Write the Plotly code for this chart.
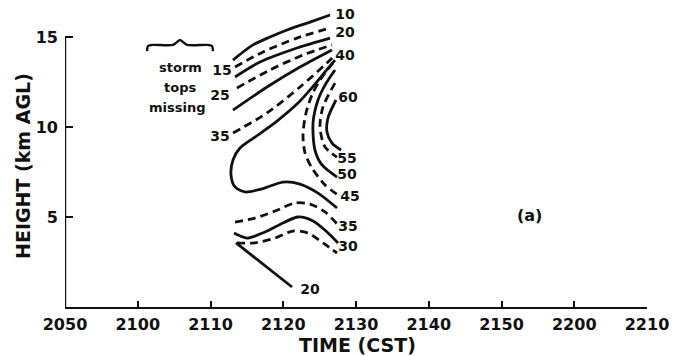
import plotly.graph_objects as go

# Time axis: minutes after 2050 CST; tick labels as printed
TICK_MIN = [0, 10, 20, 30, 40, 50, 60, 70, 80]
TICK_LAB = ["2050", "2100", "2110", "2120", "2130", "2140", "2150", "2200", "2210"]
Y_TICKS = [5, 10, 15]

# Reflectivity contours (dBZ): time (min after 2050), height (km AGL)
C10_T = [23.09, 25.84, 28.18, 30.52, 33.68, 36.43]
C10_H = [13.72, 14.56, 15.00, 15.39, 15.83, 16.22]
C15_T = [23.37, 27.22, 31.89, 36.43]
C15_H = [13.33, 14.17, 14.94, 15.50]
C20_T = [23.37, 26.80, 31.89, 36.43]
C20_H = [12.78, 13.61, 14.39, 14.94]
C25_T = [23.64, 28.18, 32.71, 36.70]
C25_H = [12.17, 13.17, 14.00, 14.56]
C30_T = [23.09, 27.77, 32.30, 36.70]
C30_H = [10.94, 12.22, 13.33, 14.28]
C35_T = [23.09, 27.77, 32.30, 36.01, 37.11]
C35_H = [9.67, 10.78, 12.22, 13.56, 14.00]
C40_T = [37.11, 35.74, 33.68, 32.03, 29.14, 26.12, 24.05, 23.09, 22.82, 23.37, 24.74, 27.08, 29.97, 32.30, 34.78, 37.39]
C40_H = [13.72, 13.06, 12.06, 11.33, 10.33, 9.44, 8.83, 8.17, 7.33, 6.67, 6.39, 6.56, 6.94, 6.83, 6.33, 5.50]
C45_T = [36.84, 35.05, 33.95, 33.13, 32.71, 32.99, 33.95, 35.74, 37.53]
C45_H = [13.56, 12.61, 11.78, 10.78, 9.56, 8.56, 7.72, 6.78, 6.22]
C50_T = [37.11, 35.74, 34.78, 34.09, 34.36, 35.33, 37.39]
C50_H = [13.17, 12.33, 11.50, 10.22, 8.72, 7.89, 7.22]
C55_T = [37.11, 35.46, 35.05, 35.74, 37.39]
C55_H = [12.44, 11.11, 10.00, 8.89, 8.33]
C60_T = [37.25, 36.15, 36.01, 36.70, 37.94]
C60_H = [11.50, 10.50, 9.72, 9.11, 8.72]
# lower group
L35_T = [23.37, 26.12, 28.87, 31.62, 33.68, 35.74, 37.53]
L35_H = [4.72, 4.94, 5.33, 5.78, 5.72, 5.28, 4.56]
L30_T = [23.23, 25.02, 27.49, 29.97, 32.03, 34.09, 36.01, 37.53]
L30_H = [4.11, 3.83, 4.17, 4.67, 5.00, 4.78, 4.17, 3.56]
L25_T = [23.64, 26.12, 28.87, 31.34, 33.40, 35.46, 37.39]
L25_H = [3.56, 3.56, 3.83, 4.22, 4.11, 3.56, 3.00]
L20_T = [23.51, 31.20]
L20_H = [3.56, 1.11]

# contour labels: text, time, height
LAB_TXT = ["10", "20", "40", "60", "55", "50", "45", "35", "30", "20", "15", "25", "35"]
LAB_T = [38.49, 38.49, 38.49, 38.90, 38.76, 38.76, 39.18, 38.90, 38.90, 33.68, 21.58, 21.31, 21.31]
LAB_H = [16.22, 15.22, 13.89, 11.61, 8.22, 7.30, 6.11, 4.44, 3.28, 0.94, 13.06, 11.67, 9.44]

# "storm tops missing" brace
BRACE_T = [11.27, 11.41, 12.10, 14.85, 15.81, 16.77, 19.52, 20.21, 20.34]
BRACE_H = [14.22, 14.50, 14.56, 14.56, 14.83, 14.56, 14.56, 14.50, 14.22]

INK = "#111111"
solid = dict(color=INK, width=2.8)
dashed = dict(color=INK, width=2.8, dash="8px,5px")

curves = [
    (C10_T, C10_H, solid), (C15_T, C15_H, dashed), (C20_T, C20_H, solid),
    (C25_T, C25_H, dashed), (C30_T, C30_H, solid), (C35_T, C35_H, dashed),
    (C40_T, C40_H, solid), (C45_T, C45_H, dashed), (C50_T, C50_H, solid),
    (C55_T, C55_H, dashed), (C60_T, C60_H, solid),
    (L35_T, L35_H, dashed), (L30_T, L30_H, solid), (L25_T, L25_H, dashed),
    (L20_T, L20_H, solid),
]

fig = go.Figure()
for t, h, ln in curves:
    fig.add_trace(go.Scatter(x=t, y=h, mode="lines", line=dict(shape="spline", smoothing=0.8, **ln),
                             hoverinfo="skip", showlegend=False))
fig.add_trace(go.Scatter(x=BRACE_T, y=BRACE_H, mode="lines",
                         line=dict(color=INK, width=2.4, shape="spline", smoothing=0.6),
                         hoverinfo="skip", showlegend=False))

bold = dict(family="DejaVu Sans", size=16, color=INK, weight="bold")
lab = dict(family="DejaVu Sans", size=14, color=INK, weight="bold")
fig.add_trace(go.Scatter(x=LAB_T, y=LAB_H, mode="text", text=LAB_TXT, textfont=lab,
                         hoverinfo="skip", showlegend=False, cliponaxis=False))

small = dict(family="DejaVu Sans", size=13, color=INK, weight="bold")
for txt, tx, hy in [("storm", 15.81, 13.28), ("tops", 15.81, 12.17), ("missing", 15.40, 11.06)]:
    fig.add_annotation(x=tx, y=hy, text=txt, showarrow=False, font=small)

fig.add_annotation(x=63.9, y=5.11, text="(a)", showarrow=False, font=bold)
title_font = dict(family="DejaVu Sans", size=19, color=INK, weight="bold")
fig.add_annotation(xref="paper", yref="paper", x=0.5034, y=-0.128, text="TIME (CST)",
                   xanchor="center", yanchor="middle", showarrow=False, font=title_font)
fig.add_annotation(xref="paper", yref="paper", x=-0.0722, y=0.4747, text="HEIGHT (km AGL)",
                   xanchor="center", yanchor="middle", showarrow=False, textangle=-90,
                   font=title_font)

# y axis line only up to 15 km
fig.add_shape(type="line", x0=0, x1=0, y0=0, y1=15, xref="x", yref="y",
              line=dict(color=INK, width=2.4))

fig.update_xaxes(range=[0, 80], tickvals=TICK_MIN, ticktext=TICK_LAB, showline=True,
                 linecolor=INK, linewidth=2.4, ticks="inside", ticklen=6, tickwidth=2,
                 tickcolor=INK, showgrid=False, zeroline=False, tickfont=bold,
                 ticklabelstandoff=2)
fig.update_yaxes(range=[0, 16.5], tickvals=Y_TICKS, ticktext=[str(v) for v in Y_TICKS],
                 showline=False, ticks="inside", ticklen=8, tickwidth=2, tickcolor=INK,
                 showgrid=False, zeroline=False, tickfont=bold, ticklabelstandoff=6)

fig.update_layout(width=679, height=356, margin=dict(l=65, r=32, t=10, b=49),
                  plot_bgcolor="white", paper_bgcolor="white")
fig.write_html("out.html", config={"displayModeBar": False},
               post_script="document.body.style.margin='0px';")
